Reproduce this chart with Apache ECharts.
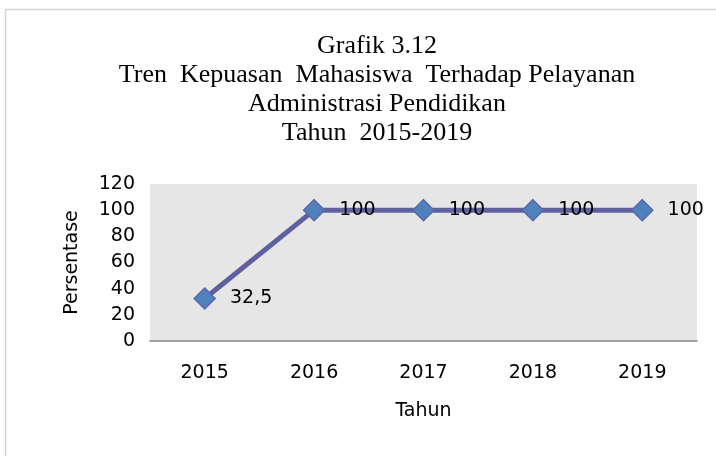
<!DOCTYPE html>
<html>
<head>
<meta charset="utf-8">
<script src="https://cdn.jsdelivr.net/npm/echarts@6/dist/echarts.min.js"></script>
<style>
  html, body { margin: 0; padding: 0; background: #fff; }
  #chart { width: 716px; height: 456px; }
</style>
</head>
<body>
<div id="chart"></div>
<script>
// data
const tahun = ['2015', '2016', '2017', '2018', '2019'];
const persentase = [32.5, 100, 100, 100, 100];
const judul = 'Grafik 3.12\nTren  Kepuasan  Mahasiswa  Terhadap Pelayanan\nAdministrasi Pendidikan\nTahun  2015-2019';

const labelFont = '"DejaVu Sans", sans-serif';

const chart = echarts.init(document.getElementById('chart'), null, { renderer: 'canvas' });

chart.setOption({
    animation: false,
    backgroundColor: '#fff',
    graphic: [{
        type: 'rect',
        shape: { x: 5.5, y: 9.5, width: 800, height: 600 },
        style: { fill: 'none', stroke: '#d4d4d4', lineWidth: 1.5 },
        silent: true
    }],
    title: {
        text: judul,
        left: 372,
        textAlign: 'center',
        top: 27,
        textStyle: {
            fontFamily: '"Liberation Serif", "Times New Roman", serif',
            fontWeight: 'normal',
            fontSize: 26,
            lineHeight: 29,
            color: '#000'
        }
    },
    grid: {
        left: 150,
        right: 19,
        top: 184,
        bottom: 115,
        show: true,
        backgroundColor: '#e6e6e6',
        borderWidth: 0
    },
    xAxis: {
        type: 'category',
        data: tahun,
        boundaryGap: true,
        name: 'Tahun',
        nameLocation: 'middle',
        nameGap: 61,
        nameTextStyle: { fontFamily: labelFont, fontSize: 19, color: '#000' },
        axisLine: { lineStyle: { color: '#868686', width: 1.5 } },
        axisTick: { show: false },
        axisLabel: { margin: 23, fontFamily: labelFont, fontSize: 19, color: '#000' },
        splitLine: { show: false }
    },
    yAxis: {
        type: 'value',
        min: 0,
        max: 120,
        interval: 20,
        name: 'Persentase',
        nameLocation: 'middle',
        nameGap: 68,
        nameTextStyle: { fontFamily: labelFont, fontSize: 19, color: '#000' },
        axisLine: { show: false },
        axisTick: { show: false },
        axisLabel: { margin: 15, fontFamily: labelFont, fontSize: 19, color: '#000', padding: [4, 0, 0, 0] },
        splitLine: { show: false }
    },
    series: [{
        type: 'line',
        data: persentase,
        symbol: 'diamond',
        symbolSize: [21, 21],
        lineStyle: { color: '#5f619e', width: 5 },
        itemStyle: { color: '#4f81bd', borderColor: '#5b68aa', borderWidth: 1.5 },
        label: {
            show: true,
            position: 'right',
            distance: 14,
            fontFamily: labelFont,
            fontSize: 19,
            color: '#000',
            padding: [4, 0, 0, 0],
            formatter: (p) => String(p.value).replace('.', ',')
        },
        z: 3
    }]
});
</script>
</body>
</html>
